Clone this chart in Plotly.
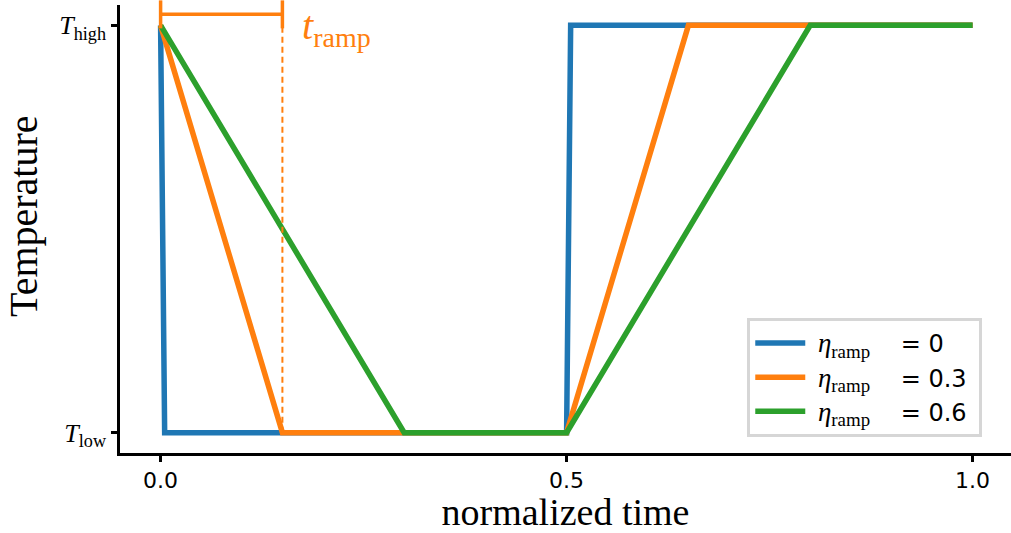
import plotly.graph_objects as go

# Normalized-time profiles for three ramp fractions
eta_labels = ["0", "0.3", "0.6"]
colors = ["#1f77b4", "#ff7f0e", "#2ca02c"]

x_eta0 = [0.0, 0.005, 0.5, 0.505, 1.0]
y_eta0 = [1, 0, 0, 1, 1]
x_eta03 = [0.0, 0.15, 0.5, 0.65, 1.0]
y_eta03 = [1, 0, 0, 1, 1]
x_eta06 = [0.0, 0.3, 0.5, 0.8, 1.0]
y_eta06 = [1, 0, 0, 1, 1]

series_x = [x_eta0, x_eta03, x_eta06]
series_y = [y_eta0, y_eta03, y_eta06]

# Ramp-duration marker
ramp_start = 0.0
ramp_end = 0.15
bracket_y = 1.027

x_ticks = [0.0, 0.5, 1.0]
x_tick_text = ["0.0", "0.5", "1.0"]
y_ticks = [0, 1]
y_tick_text = ["<i>T</i><sub>low</sub>", "<i>T</i><sub>high</sub>"]

SERIF = "Liberation Serif, DejaVu Serif, serif"
SANS = "DejaVu Sans, sans-serif"

fig = go.Figure()

for xs, ys, lab, col in zip(series_x, series_y, eta_labels, colors):
    name = (f'&nbsp;<span style="font-family:{SERIF};font-size:27px">'
            f'<i>η</i><sub>ramp</sub></span>'
            f'&nbsp;&nbsp;&nbsp;&nbsp;= {lab}&nbsp;')
    fig.add_trace(go.Scatter(x=xs, y=ys, mode="lines", name=name,
                             line=dict(color=col, width=5.5)))

# dashed guide at end of ramp
fig.add_trace(go.Scatter(x=[ramp_end, ramp_end], y=[0, bracket_y], mode="lines",
                         line=dict(color=colors[1], width=2, dash="6px,4px"),
                         showlegend=False, hoverinfo="skip"))
# bracket with caps
fig.add_trace(go.Scatter(x=[ramp_start, ramp_end], y=[bracket_y, bracket_y],
                         mode="lines+markers",
                         line=dict(color=colors[1], width=3.5),
                         marker=dict(symbol="line-ns", size=20,
                                     line=dict(color=colors[1], width=3.5)),
                         showlegend=False, hoverinfo="skip", cliponaxis=False))

fig.add_annotation(x=ramp_end, y=bracket_y, xref="x", yref="y",
                   text="<i>t</i><sub>ramp</sub>", showarrow=False,
                   xanchor="left", yanchor="top", xshift=19, yshift=12,
                   borderpad=0,
                   font=dict(family=SERIF, size=40, color=colors[1]))

# vertical axis title
fig.add_annotation(x=0, y=0.529, xref="paper", yref="paper",
                   text="Temperature", showarrow=False, textangle=-90,
                   xanchor="center", yanchor="middle", xshift=-97,
                   font=dict(family=SERIF, size=40, color="black"))

fig.update_layout(
    width=1011, height=533,
    margin=dict(l=120, r=0, t=5, b=80),
    paper_bgcolor="white", plot_bgcolor="white",
    showlegend=True,
    legend=dict(x=0.704, y=0.036, xanchor="left", yanchor="bottom",
                bgcolor="white", bordercolor="#d6d6d6", borderwidth=3,
                font=dict(family=SANS, size=24, color="black"),
                itemwidth=50, tracegroupgap=0),
    xaxis=dict(range=[-0.05, 1.0473], tickvals=x_ticks, ticktext=x_tick_text,
               showgrid=False, zeroline=False, showline=True, linecolor="black",
               linewidth=2.5, ticks="outside", ticklen=6, tickwidth=2.5,
               tickcolor="black",
               tickfont=dict(family=SANS, size=22, color="black"),
               title=dict(text="normalized time", standoff=6,
                          font=dict(family=SERIF, size=38, color="black"))),
    yaxis=dict(range=[-0.05, 1.05], tickvals=y_ticks, ticktext=y_tick_text,
               showgrid=False, zeroline=False, showline=True, linecolor="black",
               linewidth=2.5, ticks="outside", ticklen=6, tickwidth=2.5,
               tickcolor="black",
               tickfont=dict(family=SERIF, size=26, color="black")),
)

fig.write_html("out.html")
